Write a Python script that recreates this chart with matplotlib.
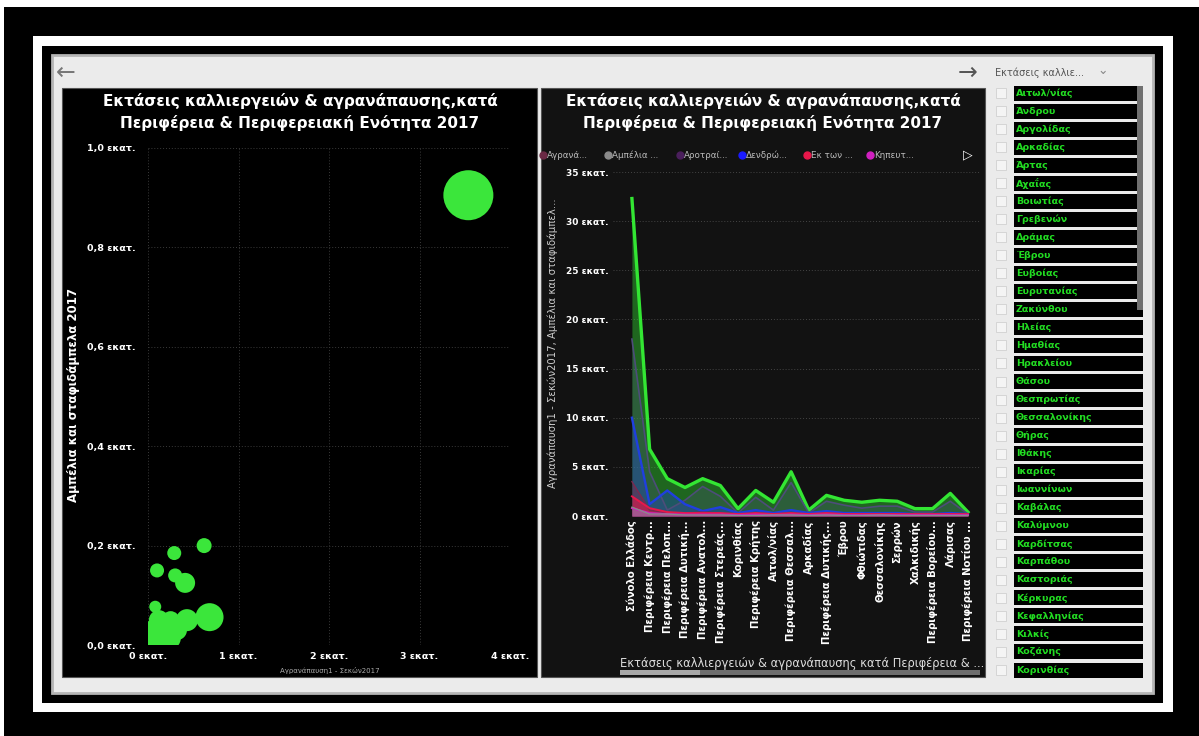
import matplotlib
matplotlib.use("Agg")
import matplotlib.pyplot as plt
from matplotlib.patches import Rectangle
from matplotlib.ticker import FuncFormatter

plt.rcParams['font.family'] = ['DejaVu Sans']

W, H = 1199, 736

title = "Εκτάσεις καλλιεργειών & αγρανάπαυσης,κατά\nΠεριφέρεια & Περιφερειακή Ενότητα 2017"

# left chart: Αγρανάπαυση (x, εκατ.) vs Αμπέλια (y, εκατ.), bubble size
fallow = [3.54, 0.62, 0.29, 0.10, 0.30, 0.41, 0.68, 0.43, 0.08, 0.03, 0.22, 0.32, 0.12, 0.25, 0.05, 0.15]
vines = [0.905, 0.20, 0.185, 0.15, 0.14, 0.125, 0.056, 0.05, 0.077, 0.02, 0.015, 0.03, 0.05, 0.05, 0.0, 0.0]
bubble_size = [25, 7.5, 7, 7, 7, 10, 14, 11, 6, 14, 13, 10, 10, 9, 12, 12]

# right chart: categories and series (εκατ.)
regions = ["Σύνολο Ελλάδος", "Περιφέρεια Κεντρ...", "Περιφέρεια Πελοπ...", "Περιφέρεια Δυτική...",
           "Περιφέρεια Ανατολ...", "Περιφέρεια Στερεάς...", "Κορινθίας", "Περιφέρεια Κρήτης",
           "Αιτωλ/νίας", "Περιφέρεια Θεσσαλ...", "Αρκαδίας", "Περιφέρεια Δυτικής...", "Έβρου",
           "Φθιώτιδας", "Θεσσαλονίκης", "Σερρών", "Χαλκιδικής", "Περιφέρεια Βορείου...",
           "Λάρισας", "Περιφέρεια Νοτίου ..."]
total = [32.3, 6.8, 3.8, 2.9, 3.8, 3.1, 0.75, 2.6, 1.4, 4.5, 0.6, 2.1, 1.6, 1.4, 1.6, 1.5, 0.75, 0.75, 2.3, 0.4]
arable = [18.0, 4.5, 0.6, 1.6, 3.0, 2.0, 0.3, 1.9, 0.6, 3.4, 0.3, 1.5, 1.1, 0.8, 1.0, 1.0, 0.4, 0.4, 1.5, 0.2]
trees = [10.0, 1.2, 2.6, 1.2, 0.5, 0.9, 0.3, 0.6, 0.3, 0.6, 0.3, 0.5, 0.3, 0.3, 0.3, 0.3, 0.2, 0.2, 0.3, 0.2]
fallow_r = [3.5, 0.6, 0.3, 0.3, 0.4, 0.3, 0.1, 0.3, 0.2, 0.3, 0.1, 0.3, 0.2, 0.2, 0.2, 0.2, 0.1, 0.1, 0.2, 0.1]
irrigated = [2.0, 0.8, 0.4, 0.3, 0.3, 0.3, 0.2, 0.3, 0.2, 0.3, 0.2, 0.3, 0.2, 0.2, 0.2, 0.2, 0.2, 0.2, 0.2, 0.2]
vegetables = [0.8, 0.3, 0.2, 0.15, 0.15, 0.15, 0.1, 0.15, 0.1, 0.15, 0.1, 0.15, 0.1, 0.1, 0.1, 0.1, 0.1, 0.1, 0.1, 0.1]
vines_r = [0.9, 0.2, 0.2, 0.1, 0.1, 0.1, 0.05, 0.05, 0.1, 0.1, 0.05, 0.1, 0.05, 0.05, 0.1, 0.05, 0.05, 0.05, 0.05, 0.05]

legend_names = ["Αγρανά...", "Αμπέλια ...", "Αροτραί...", "Δενδρώ...", "Εκ των ...", "Κηπευτ..."]
legend_colors = ["#6b2a45", "#8a8a8a", "#4a1f5c", "#1a1aff", "#e8174a", "#d020c0"]

slicer_items = ["Αιτωλ/νίας", "Άνδρου", "Αργολίδας", "Αρκαδίας", "Άρτας", "Αχαΐας", "Βοιωτίας",
                "Γρεβενών", "Δράμας", "Έβρου", "Ευβοίας", "Ευρυτανίας", "Ζακύνθου", "Ηλείας",
                "Ημαθίας", "Ηρακλείου", "Θάσου", "Θεσπρωτίας", "Θεσσαλονίκης", "Θήρας", "Ιθάκης",
                "Ικαρίας", "Ιωαννίνων", "Καβάλας", "Καλύμνου", "Καρδίτσας", "Καρπάθου",
                "Καστοριάς", "Κέρκυρας", "Κεφαλληνίας", "Κιλκίς", "Κοζάνης", "Κορινθίας"]


def box(x0, y0, x1, y1):
    """pixel box -> figure fraction"""
    return [x0 / W, 1 - y1 / H, (x1 - x0) / W, (y1 - y0) / H]


def rect(ax, x0, y0, x1, y1, color, **kw):
    ax.add_patch(Rectangle((x0, y0), x1 - x0, y1 - y0, facecolor=color, **kw))


fig = plt.figure(figsize=(W / 100, H / 100), dpi=100, facecolor="white")

# background layer in pixel coordinates
bg = fig.add_axes([0, 0, 1, 1])
bg.set_xlim(0, W)
bg.set_ylim(H, 0)
bg.axis("off")

rect(bg, 4, 7, W, H, "black")
rect(bg, 33, 36, 1173, 712, "white")
rect(bg, 42, 46, 1163, 703, "black")
rect(bg, 52, 55, 1153, 693, "#ebebeb", edgecolor="#b5b5b5", lw=2)
rect(bg, 62, 88, 537, 677, "black", edgecolor="#555555", lw=0.8)
rect(bg, 541, 88, 985, 677, "#121212", edgecolor="#555555", lw=0.8)

bg.text(66, 73, "←", fontsize=17, color="#777777", ha="center", va="center")
bg.text(968, 73, "→", fontsize=17, color="#555555", ha="center", va="center")

for cx in (300, 763):
    bg.text(cx, 112, title, fontsize=11, fontweight="bold", color="white",
            ha="center", va="center", linespacing=1.4)

# left chart labels
bg.text(73, 395, "Αμπέλια και σταφιδάμπελα 2017", rotation=90, fontsize=8.5, fontweight="bold",
        color="white", ha="center", va="center")
bg.text(330, 670, "Αγρανάπαυση1 - Σεκών2017", fontsize=5, color="#aaaaaa", ha="center", va="center")

# right chart labels
bg.text(553, 343, "Αγρανάπαυση1 - Σεκών2017, Αμπέλια και σταφιδάμπελ...", rotation=90, fontsize=7.3,
        color="#cccccc", ha="center", va="center")
lx = [543, 608, 680, 742, 807, 870]
for x, name, c in zip(lx, legend_names, legend_colors):
    bg.plot(x, 155, "o", color=c, ms=5)
    bg.text(x + 4, 155, name, fontsize=6.3, color="#bbbbbb", ha="left", va="center")
bg.text(968, 155, "▷", fontsize=9, color="white", ha="center", va="center", fontweight="bold")
bg.text(620, 663, "Εκτάσεις καλλιεργειών & αγρανάπαυσης κατά Περιφέρεια & ...", fontsize=8.3,
        color="#dddddd", ha="left", va="center")
rect(bg, 620, 670, 980, 675, "#6e6e6e")
rect(bg, 620, 670, 700, 675, "#a8a8a8")

# slicer
bg.text(995, 73, "Εκτάσεις καλλιε...", fontsize=7, color="#555555", ha="left", va="center")
bg.text(1103, 71, "⌄", fontsize=9, color="#888888", ha="center", va="center")
step = (670 - 93) / (len(slicer_items) - 1)
for i, item in enumerate(slicer_items):
    yc = 93 + i * step
    y0 = max(yc - 7.5, 86)
    y1 = min(yc + 7.5, 680)
    if y1 <= y0:
        continue
    rect(bg, 1014, y0, 1143, y1, "black")
    rect(bg, 996, yc - 5, 1006, yc + 5, "#f4f4f4", edgecolor="#d0d0d0", lw=0.6)
    bg.text(1016, yc, item, fontsize=6.8, fontweight="bold", color="#22dd22", ha="left", va="center")
rect(bg, 1137, 86, 1143, 310, "#707070")

# left scatter
ax1 = fig.add_axes(box(148, 148, 510, 645))
ax1.set_facecolor("none")
ax1.set_xlim(0, 4)
ax1.set_ylim(0, 1)
ax1.scatter(fallow, vines, s=[(1.44 * b) ** 2 for b in bubble_size], color="#3be63b",
            edgecolors="none", zorder=3)
ax1.set_xticks([0, 1, 2, 3, 4])
ax1.set_yticks([0, 0.2, 0.4, 0.6, 0.8, 1.0])
ax1.xaxis.set_major_formatter(FuncFormatter(lambda v, p: f"{v:.0f} εκατ."))
ax1.yaxis.set_major_formatter(FuncFormatter(lambda v, p: f"{v:.1f} εκατ.".replace(".", ",", 1)))
ax1.grid(True, color="#3a3a3a", lw=0.7, linestyle=(0, (1, 2)))
ax1.set_axisbelow(True)
ax1.tick_params(length=0, colors="white", labelsize=6.8)
ax1.tick_params(axis="y", pad=9)
ax1.tick_params(axis="x", pad=5)
for lab in ax1.get_xticklabels() + ax1.get_yticklabels():
    lab.set_fontweight("bold")
for s in ax1.spines.values():
    s.set_visible(False)

# right area chart
ax2 = fig.add_axes(box(613, 172, 980, 516))
ax2.set_facecolor("none")
xs = list(range(len(regions)))
series = [(total, "#33e633", 0.4, 2.4),
          (arable, "#4d4d7a", 0.3, 1.2),
          (trees, "#1f3fe0", 0.35, 1.7),
          (fallow_r, "#7a2a50", 0.5, 1.0),
          (irrigated, "#e8174a", 0.6, 1.4),
          (vegetables, "#d020c0", 0.6, 1.4),
          (vines_r, "#8a8a8a", 0.5, 1.0)]
for vals, c, a, lw in series:
    ax2.fill_between(xs, vals, color=c, alpha=a, lw=0)
    ax2.plot(xs, vals, color=c, lw=lw)
ax2.set_xlim(-1.07, 19.68)
ax2.set_ylim(0, 35)
ax2.set_yticks(range(0, 36, 5))
ax2.yaxis.set_major_formatter(FuncFormatter(lambda v, p: f"{v:.0f} εκατ."))
ax2.set_xticks(xs)
ax2.set_xticklabels(regions, rotation=90, fontsize=7.3, fontweight="bold", color="white")
ax2.grid(True, axis="y", color="#444444", lw=0.7, linestyle=(0, (1, 2)))
ax2.set_axisbelow(True)
ax2.tick_params(length=0, colors="white", labelsize=6.5)
ax2.tick_params(axis="x", pad=3, labelsize=7.3)
for lab in ax2.get_yticklabels():
    lab.set_fontweight("bold")
for s in ax2.spines.values():
    s.set_visible(False)

fig.savefig("out.png", dpi=100, facecolor="white")
